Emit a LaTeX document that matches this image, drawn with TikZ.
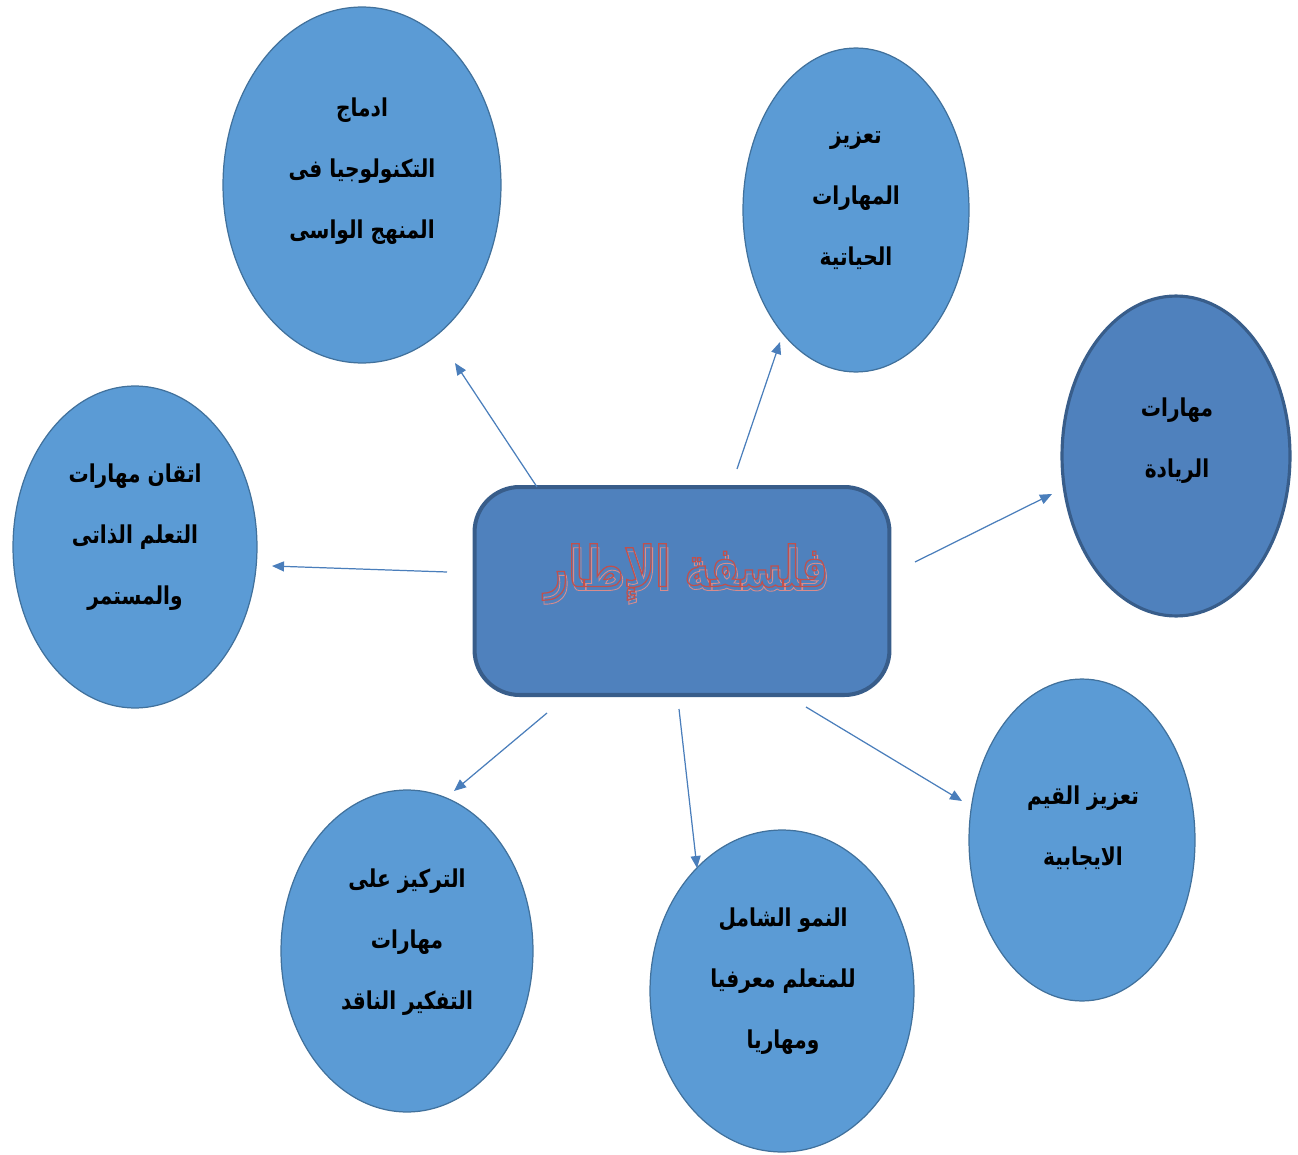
\documentclass[tikz,border=0pt]{standalone}
\usepackage{fontspec}
\usetikzlibrary{arrows.meta,shapes.geometric}
\TeXXeTstate=1
\newfontfamily\arabicfont[Script=Arabic,FakeStretch=0.82]{DejaVu Sans}
\newfontfamily\titlefont[Script=Arabic,FakeStretch=0.75]{DejaVu Sans}
\definecolor{bubfill}{HTML}{5B9BD5}
\definecolor{bubline}{HTML}{41719C}
\definecolor{boxfill}{HTML}{4F81BD}
\definecolor{boxline}{HTML}{385D8A}
\definecolor{arrowcol}{HTML}{4A7EBB}
\newcommand{\outlinetext}[1]{\special{pdf:code q 1 Tr 0.7 w 0.753 0.314 0.302 RG}#1\special{pdf:code Q}}
\newcommand{\shadowtext}[1]{\special{pdf:code q 1 Tr 0.5 w 0.85 0.55 0.55 RG}#1\special{pdf:code Q}}
\newcommand{\titletext}{\beginR فلسفة الإطار\endR}
\tikzset{
  bub/.style={ellipse, draw=bubline, fill=bubfill, line width=0.7pt, inner sep=0pt},
  darkbub/.style={ellipse, draw=boxline, fill=boxfill, line width=1.8pt, inner sep=0pt},
  txt/.style={align=center, font={\arabicfont\bfseries\fontsize{14}{34.7}\selectfont}, text=black, inner sep=0pt},
  conn/.style={draw=arrowcol, line width=0.7pt, -{Triangle[length=0.24cm,width=0.2cm]}},
}
\begin{document}
\begin{tikzpicture}[x=0.02cm,y=-0.02cm]
\useasboundingbox (0,0) rectangle (1298,1155);
% central box
\node[draw=boxline, fill=boxfill, line width=2.3pt, rounded corners=0.9cm,
  minimum width=8.3cm, minimum height=4.16cm] (c) at (682,591) {};
\node[inner sep=0pt, font={\titlefont\bfseries\fontsize{32}{40}\selectfont}] (title) at (686,574)
  {\makebox[0pt]{\hspace{0.07cm}\raisebox{-0.08cm}{\shadowtext{\titletext}}}\makebox[0pt]{\outlinetext{\titletext}}};
% bubbles
\node[bub, minimum width=5.56cm, minimum height=7.12cm] (e1) at (362,185) {};
\node[bub, minimum width=4.52cm, minimum height=6.48cm] (e2) at (856,210) {};
\node[darkbub, minimum width=4.56cm, minimum height=6.4cm] (e3) at (1176,456) {};
\node[bub, minimum width=4.88cm, minimum height=6.44cm] (e4) at (135,547) {};
\node[bub, minimum width=5.04cm, minimum height=6.44cm] (e5) at (407,951) {};
\node[bub, minimum width=5.28cm, minimum height=6.44cm] (e6) at (782,991) {};
\node[bub, minimum width=4.52cm, minimum height=6.44cm] (e7) at (1082,840) {};
% texts
\node[txt] (t1) at (362,171) {\beginR ادماج\endR\\\beginR التكنولوجيا فى\endR\\\beginR المنهج الواسى\endR};
\node[txt] (t2) at (856,201) {\beginR تعزيز\endR\\\beginR المهارات\endR\\\beginR الحياتية\endR};
\node[txt] (t3) at (1177,441) {\beginR مهارات\endR\\\beginR الريادة\endR};
\node[txt] (t4) at (135,537) {\beginR اتقان مهارات\endR\\\beginR التعلم الذاتى\endR\\\beginR والمستمر\endR};
\node[txt] (t5) at (407,942) {\beginR التركيز على\endR\\\beginR مهارات\endR\\\beginR التفكير الناقد\endR};
\node[txt] (t6) at (783,981) {\beginR النمو الشامل\endR\\\beginR للمتعلم معرفيا\endR\\\beginR ومهاريا\endR};
\node[txt] (t7) at (1083,828) {\beginR تعزيز القيم\endR\\\beginR الايجابية\endR};
% connector end points
\coordinate (s1) at (537,487); \coordinate (d1) at (455,363);
\coordinate (s2) at (737,469); \coordinate (d2) at (780,342);
\coordinate (s3) at (915,562); \coordinate (d3) at (1052,494);
\coordinate (s4) at (447,572); \coordinate (d4) at (272,566);
\coordinate (s5) at (547,713); \coordinate (d5) at (454,791);
\coordinate (s6) at (679,709); \coordinate (d6) at (697,868);
\coordinate (s7) at (806,707); \coordinate (d7) at (962,801);
\draw[conn] (s1) -- (d1);
\draw[conn] (s2) -- (d2);
\draw[conn] (s3) -- (d3);
\draw[conn] (s4) -- (d4);
\draw[conn] (s5) -- (d5);
\draw[conn] (s6) -- (d6);
\draw[conn] (s7) -- (d7);
\end{tikzpicture}
\end{document}
